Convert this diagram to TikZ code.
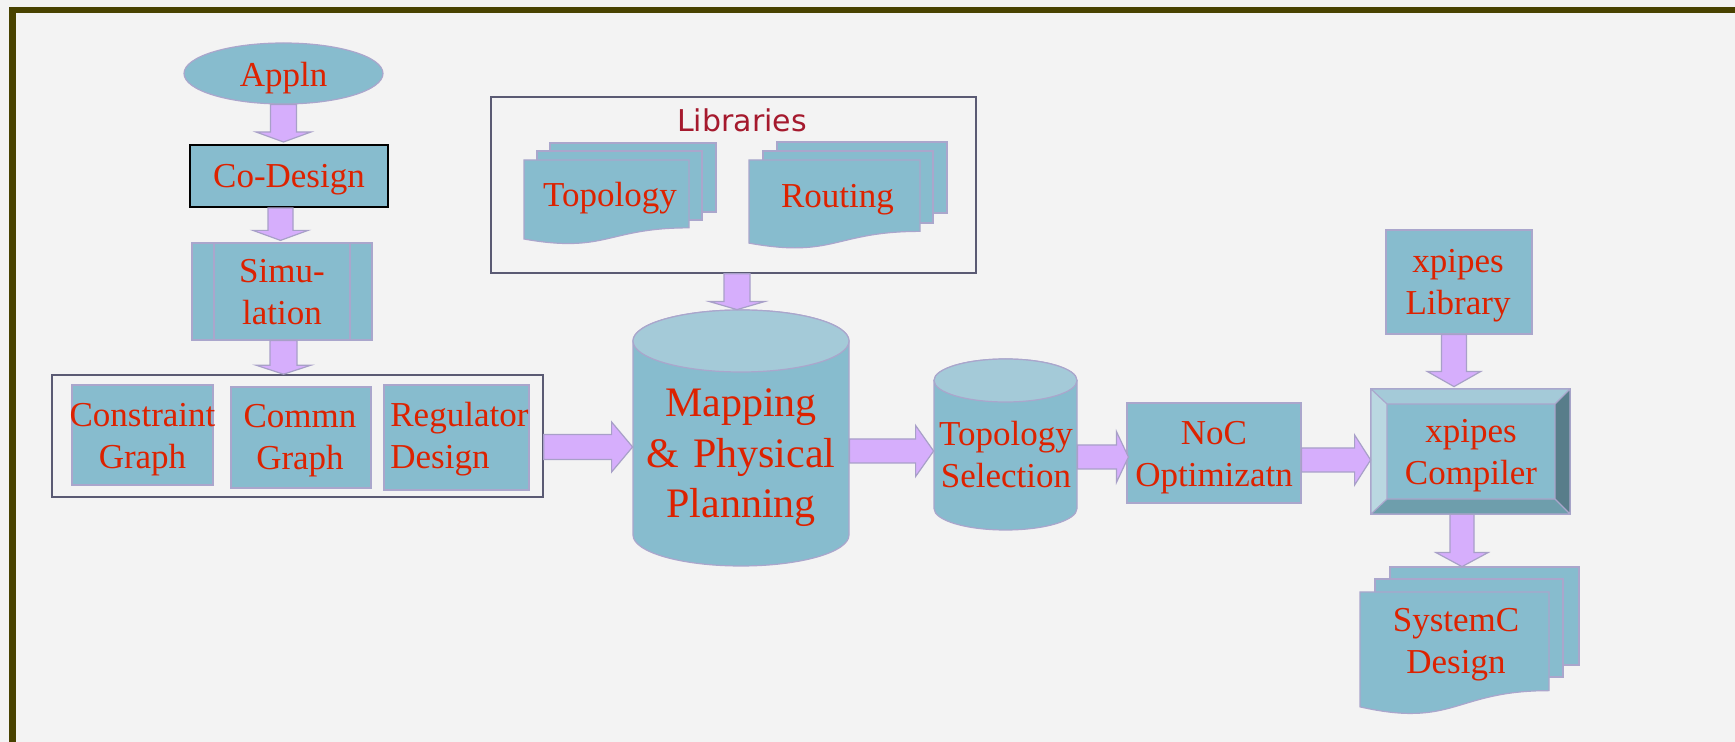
\documentclass[tikz,border=0pt]{standalone}
\usepackage{fontspec}
\setmainfont{Liberation Serif}
\newfontfamily\libfont{DejaVu Sans}
\usetikzlibrary{calc,shapes.geometric}
\definecolor{bgc}{RGB}{243,243,243}
\definecolor{frame}{RGB}{72,66,0}
\definecolor{boxfill}{RGB}{135,188,206}
\definecolor{boxline}{RGB}{170,166,204}
\definecolor{cyltop}{RGB}{164,202,216}
\definecolor{arrfill}{RGB}{214,174,252}
\definecolor{arrline}{RGB}{168,160,200}
\definecolor{txtred}{RGB}{221,34,0}
\definecolor{libred}{RGB}{165,25,45}
\definecolor{grpline}{RGB}{90,90,115}
\definecolor{bvtop}{RGB}{164,202,216}
\definecolor{bvleft}{RGB}{186,216,225}
\definecolor{bvright}{RGB}{88,125,138}
\definecolor{bvbot}{RGB}{110,158,172}
\tikzset{
  shp/.style={fill=boxfill, draw=boxline, line width=0.6pt},
  rbox/.style 2 args={shp, rectangle, inner sep=0pt, minimum width=#1*0.5pt, minimum height=#2*0.5pt},
  bbox/.style 2 args={rectangle, inner sep=0pt, minimum width=#1*0.5pt, minimum height=#2*0.5pt},
  grp/.style={draw=grpline, line width=0.8pt},
  blk/.style={fill=arrfill, draw=arrline, line width=0.6pt, line join=miter},
  txt/.style={text=txtred, font=\fontsize{17.5}{21}\selectfont, inner sep=0pt, anchor=base},
  txtb/.style={txt, text width=95pt, align=center},
}
% vertical block arrow: start, tip, shaft half, head half, head length
\newcommand\vblk[5]{\path[blk] let \p1=#1, \p2=#2 in
  (\x2-#3,\y1) -- (\x2-#3,\y2+#5) -- (\x2-#4,\y2+#5) -- (\x2,\y2) --
  (\x2+#4,\y2+#5) -- (\x2+#3,\y2+#5) -- (\x2+#3,\y1) -- cycle;}
% horizontal block arrow: start, tip, shaft half, head half, head length
\newcommand\hblk[5]{\path[blk] let \p1=#1, \p2=#2 in
  (\x1,\y2+#3) -- (\x2-#5,\y2+#3) -- (\x2-#5,\y2+#4) -- (\x2,\y2) --
  (\x2-#5,\y2-#4) -- (\x2-#5,\y2-#3) -- (\x1,\y2-#3) -- cycle;}
% document page with wavy bottom: x0, y0, w, h (px)
\newcommand\docpage[4]{\path[shp] (#1,#2) -- ({#1+#3},#2) -- ({#1+#3},{#2+0.802*#4})
  .. controls ({#1+0.5*#3},{#2+0.802*#4}) and ({#1+0.5*#3},{#2+1.1075*#4}) .. (#1,{#2+0.934*#4}) -- cycle;}
\begin{document}
\begin{tikzpicture}[x=0.5pt,y=-0.5pt]
\useasboundingbox (0,0) rectangle (1735,742);
\fill[bgc] (0,0) rectangle (1735,742);
\draw[frame, line width=3.2pt] (1735,10) -- (12.5,10) -- (12.5,742);

% left column
\node[bbox={491}{122}, grp] (group) at (297.5,436) {};
\node[rbox={141}{100}] (cg) at (142.5,435) {};
\node[rbox={140}{101}] (comm) at (301,437.5) {};
\node[rbox={145}{105}] (reg) at (456.5,437.5) {};
\node[shp, ellipse, inner sep=0pt, minimum width=99.5pt, minimum height=30.5pt] (appln) at (283.5,73.5) {};
\node[rbox={198}{62}, draw=black, line width=1pt] (codesign) at (289,176) {};
\node[rbox={180}{97}] (sim) at (282,291.5) {};
\draw[boxline, line width=0.6pt] (214,243) -- (214,340) (350,243) -- (350,340);

% libraries
\node[bbox={485}{176}, grp] (libs) at (733.5,185) {};
\path[shp] (550,143) rectangle (716,212);
\path[shp] (537,151) rectangle (702,220);
\docpage{524}{160}{165}{84.6}
\node[bbox={192}{101}] (topo) at (620,193.5) {};
\path[shp] (777,142) rectangle (947,213);
\path[shp] (763,151) rectangle (933,223);
\docpage{749}{160}{171}{89}
\node[bbox={198}{105}] (routing) at (848,194.5) {};

% mapping cylinder
\path[shp] (633,341) -- (633,535) arc[start angle=180,end angle=360,x radius=54pt,y radius=15.5pt]
  -- (849,341) arc[start angle=0,end angle=180,x radius=54pt,y radius=15.5pt] -- cycle;
\path[shp, fill=cyltop] (741,341) ellipse [x radius=54pt, y radius=15.5pt];
\node[bbox={216}{256}] (mapping) at (741,438) {};

% topology selection cylinder
\path[shp] (934,380.5) -- (934,508.5) arc[start angle=180,end angle=360,x radius=35.75pt,y radius=10.75pt]
  -- (1077,380.5) arc[start angle=0,end angle=180,x radius=35.75pt,y radius=10.75pt] -- cycle;
\path[shp, fill=cyltop] (1005.5,380.5) ellipse [x radius=35.75pt, y radius=10.75pt];
\node[bbox={143}{171}] (toposel) at (1005.5,444.5) {};

% NoC
\node[rbox={174}{100}] (noc) at (1214,453) {};

% compiler bevel
\path[shp] (1371,389) rectangle (1570,514);
\path[fill=bvtop] (1371,389) -- (1570,389) -- (1555,404) -- (1387,404) -- cycle;
\path[fill=bvleft] (1371,389) -- (1387,404) -- (1387,499) -- (1371,514) -- cycle;
\path[fill=bvright] (1570,389) -- (1570,514) -- (1555,499) -- (1555,404) -- cycle;
\path[fill=bvbot] (1371,514) -- (1387,499) -- (1555,499) -- (1570,514) -- cycle;
\draw[boxline, line width=0.6pt] (1371,389) rectangle (1570,514) (1387,404) rectangle (1555,499)
  (1371,389) -- (1387,404) (1570,389) -- (1555,404) (1371,514) -- (1387,499) (1570,514) -- (1555,499);
\node[bbox={199}{125}] (compiler) at (1470.5,451.5) {};

% xpipes library
\node[rbox={146}{104}] (xlib) at (1459,282) {};

% SystemC docs
\path[shp] (1390,567) rectangle (1579,665);
\path[shp] (1375,579) rectangle (1563,677);
\docpage{1360}{592}{189}{123}
\node[bbox={219}{147}] (systemc) at (1469.5,640.5) {};

% block arrows
\vblk{(appln.south)}{($(appln.south |- codesign.north)+(0,-2)$)}{6.5pt}{13.75pt}{5pt}
\vblk{(codesign.south)}{($(sim.north)+(-1.5,-2)$)}{6.25pt}{13.75pt}{5pt}
\vblk{(sim.south)}{($(sim.south |- group.north)+(1.5,0)$)}{6.75pt}{13.75pt}{4.5pt}
\vblk{(libs.south)}{($(mapping.north)+(-4,0)$)}{6.5pt}{13.75pt}{4pt}
\vblk{(xlib.south)}{($(compiler.north)+(-16.5,-2)$)}{6.25pt}{13.25pt}{7.5pt}
\vblk{(compiler.south)}{($(systemc.north)+(-7.5,0)$)}{6pt}{13pt}{7pt}
\hblk{(group.east)}{($(mapping.west)+(0,9)$)}{6.25pt}{12.5pt}{10.5pt}
\hblk{(mapping.east)}{($(toposel.west)+(0,6.5)$)}{6pt}{12.75pt}{9pt}
\hblk{(toposel.east)}{($(noc.west)+(2,4)$)}{6pt}{12.75pt}{6pt}
\hblk{(noc.east)}{($(compiler.west)+(0,8.5)$)}{6pt}{12.5pt}{8pt}

% texts
\node[txt] (appln-t) at (283.5,87) {Appln};
\node[txt] (codesign-t) at (289,188) {Co-Design};
\node[txtb] (sim-t) at (282,283) {Simu-\\lation};
\node[txtb] (cg-t) at (142.5,427) {Constraint\\Graph};
\node[txtb] (comm-t) at (300,428) {Commn\\Graph};
\node[txt, text width=75pt, align=left, anchor=base west] (reg-t) at (390,427) {Regulator\\Design};
\node[txt, font=\libfont\fontsize{15}{18}\selectfont, text=libred] (libs-t) at (742,132) {Libraries};
\node[txt] (topo-t) at (610,207) {Topology};
\node[txt] (routing-t) at (837.5,208) {Routing};
\node[txtb, text width=110pt, font=\fontsize{21}{25.25}\selectfont] (mapping-t) at (741,417) {Mapping\\\&~Physical\\Planning};
\node[txtb] (toposel-t) at (1006,446) {Topology\\Selection};
\node[txtb] (noc-t) at (1214,445) {NoC\\Optimizatn};
\node[txtb] (compiler-t) at (1471,443) {xpipes\\Compiler};
\node[txtb] (xlib-t) at (1458,273) {xpipes\\Library};
\node[txtb] (systemc-t) at (1456,632) {SystemC\\Design};
\end{tikzpicture}
\end{document}
